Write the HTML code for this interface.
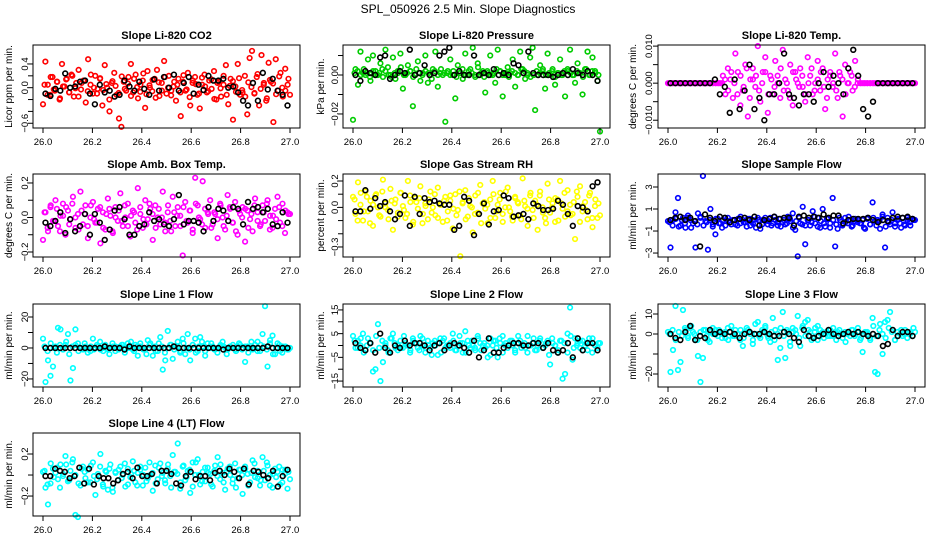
<!DOCTYPE html>
<html><head><meta charset="utf-8">
<style>
html,body{margin:0;padding:0;background:#fff;}
svg{display:block;font-family:"Liberation Sans",Arial,sans-serif;}
</style></head>
<body>
<svg id="chart" width="936" height="540" viewBox="0 0 936 540">
<text x="468" y="13" text-anchor="middle" font-size="12">SPL_050926  2.5 Min. Slope Diagnostics</text>
</svg>
<script>
const xTicks = [26.0, 26.2, 26.4, 26.6, 26.8, 27.0];
const xTickLabels = ["26.0","26.2","26.4","26.6","26.8","27.0"];
const co2 = [-28,44,5,-12,18,-5,10,-20,40,2,15,-8,22,-15,8,30,-3,12,-25,48,5,-10,20,-2,15,-30,38,0,-40,8,25,-12,-52,-66,10,-5,18,40,-8,22,-18,5,12,-34,28,0,-6,15,30,-14,8,45,-10,20,-5,2,-22,15,-48,10,-5,25,-30,8,18,-12,-35,5,22,-8,12,-2,28,-20,10,-15,5,38,-28,15,-54,2,40,-12,-8,20,-45,50,62,-10,18,-30,55,8,-22,42,10,-58,48,-5,25,-15,32,5,-12];
const co2B = [5,-12,18,-3,10,-18,2,14,-8,20,-1,-15,8,12,-6,22,0,-10,16,-4,6,-20,11,3,-9,19,-2,7,-14,15,1,-7,24,-11,4,13,-17,9,-5,18,0,-13,10,5,-8,21,-3,-16,12,6,-10,17,2,-6,14,-19,8,-1,20,-12,3,11,-7,16,-4,-15,9,1,-9,23,-2,5,-18,13,7,-11,19,0,-5,15];
const co2K = [-10,-14,-2,-5,24,0,2,10,12,-10,-28,5,-8,-5,-15,-12,12,2,-5,10,-2,-12,14,-5,18,0,22,-5,8,18,-10,5,-4,20,12,12,15,0,2,-8,-22,-30,8,-22,25,-3,15,-5,-12,-30];
const pres = [-23,3,-5,12,1,0,8,-3,10,2,0,6,-1,13,4,0,9,-2,1,11,-7,0,5,2,-16,0,7,-3,1,10,-4,0,3,12,-6,1,0,-24,2,8,0,-12,5,1,-2,11,0,3,14,-1,6,0,2,-9,1,10,0,-4,13,2,-11,0,4,1,8,-6,0,12,3,-2,0,9,14,-18,0,5,2,-7,11,0,3,-5,1,8,0,-11,2,13,0,-4,6,1,-10,3,12,0,9,2,-3,-29];
const presB = [1,2,0,3,1,-1,2,0,1,3,2,0,-1,1,2,4,0,1,2,-1,3,1,0,2,1,-2,2,0,3,1,1,0,2,-1,1,3,0,2,1,0,4,1,-1,2,0,1,3,2,0,1,-1,2,1,0,3,2,1,-1,0,2,1,3,0,1,2,-1,1,0,2,3,1,0,2,1,-1,3,0,2,1,0];
const presK = [0,-3,2,1,0,9,10,-2,0,2,1,13,0,1,5,0,1,10,12,14,0,2,0,0,10,0,1,0,3,0,1,0,6,5,1,12,1,0,0,0,-1,0,1,0,3,1,0,2,0,-3];
const temp = [0,0,0,0,0,0,0,0,0,0,0,0,0,0,0,0,0,0,0,0,0,0,2,-3,4,1,-4,8,3,-6,-2,5,-9,1,4,-1,10,-5,3,7,-8,2,-3,6,0,-4,9,1,-2,5,-6,3,0,4,-1,-5,7,2,-3,0,6,-2,4,-7,1,3,-1,8,-4,2,-9,5,0,3,-2,6,0,0,0,0,0,0,0,0,0,0,0,0,0,0,0,0,0,0,0,0,0,0,0,0];
const tempB = [0,0,0,0,0,0,0,0,0,0,0,0,0,0,0,0,0,0,1,-2,3,0,-3,2,-1,4,-4,1,2,-2,0,3,-3,1,-1,2,4,-2,0,-4,3,1,-1,2,-3,0,4,-2,1,3,-1,-4,2,0,-2,3,1,-3,0,2,-1,1,0,0,0,0,0,0,0,0,0,0,0,0,0,0,0,0,0,0];
const tempK = [0,0,0,0,0,0,0,0,0,1,-3,-1,-8,1,-7,-2,5,-7,-4,-10,-3,-3,0,8,-3,-4,-6,-3,-3,-5,0,3,-1,2,0,-3,4,9,2,-7,-9,-5,0,0,0,0,0,0,0,0];
const amb = [-13,3,-8,6,-2,10,-5,1,8,-10,4,-1,12,-6,2,15,-4,7,-12,0,9,-3,5,-15,3,-7,11,1,-9,6,-2,14,-5,0,8,-11,4,-3,17,2,-6,10,-1,5,-13,7,0,-4,15,-8,3,-2,12,-5,6,1,-22,9,-3,4,-9,23,7,-1,21,-6,3,10,-4,2,-12,8,0,-7,13,5,-3,9,-10,2,6,-14,4,-1,-8,11,3,-5,7,-2,10,1,-6,5,12,-3,8,-9,3,2];
const ambB = [3,-6,7,-2,5,-8,1,6,-4,8,0,-7,4,2,-5,7,-1,-3,6,-6,2,5,-8,0,4,-2,7,-5,1,3,-7,6,-1,-4,8,2,-6,5,0,-3,7,-8,3,1,-5,6,-2,4,-7,8,0,-4,5,2,-6,3,-1,7,-5,1,6,-3,-8,4,0,5,-6,2,7,-2,-4,3,8,-7,1,-1,6,-5,4,2];
const ambK = [-3,-5,-2,3,-9,-1,-8,-5,2,-10,2,-3,-13,-7,4,6,-1,-10,-10,-5,-4,3,-2,-1,-4,-5,-1,13,-4,-2,-2,-3,-8,6,-2,5,4,-2,6,5,-4,9,5,6,3,5,-4,-5,3,-3];
const rh = [8,-5,19,2,-10,12,-3,5,-14,9,0,-7,21,3,-2,14,-17,6,-4,11,1,-8,20,4,-13,7,-1,16,-5,3,-9,12,0,-6,15,2,-11,8,-3,5,-16,10,-2,-37,4,13,-7,1,-19,9,-4,17,3,-1,-12,6,20,-8,2,11,-5,0,15,-3,-10,7,4,-6,22,1,-14,9,-2,5,-17,12,0,-8,18,-4,3,-11,6,20,-1,-7,13,2,-5,-24,8,16,-3,4,-9,11,-15,1,-8,-6];
const rhB = [6,-10,11,-3,8,-12,2,10,-6,12,0,-9,5,3,-7,11,-2,-5,9,-11,4,7,-12,1,6,-4,10,-8,2,5,-10,9,-1,-6,12,3,-9,7,0,-5,11,-12,4,2,-8,10,-3,6,-11,12,0,-7,8,3,-9,5,-1,11,-8,2,9,-4,-12,6,0,7,-10,3,11,-3,-6,4,12,-11,1,-2,9,-8,6,3];
const rhK = [-3,-3,13,-1,7,1,4,-3,-9,-5,9,-14,8,-5,7,4,5,3,2,2,-17,-14,8,5,-21,-5,3,-13,-3,-2,9,7,-7,-6,-5,-9,3,1,-2,-2,-1,5,2,-5,-14,1,0,-3,16,19];
const flow = [-1,-25,0,7,20,-5,2,-7,4,0,-3,-25,6,2,40,-1,-27,10,-4,-13,1,-3,0,-5,2,-2,0,-4,1,-3,0,-2,1,-5,0,-3,2,-8,0,-1,-4,2,-3,0,-5,1,-2,-4,3,-1,6,-9,-33,-3,12,-22,0,-5,8,-3,2,-7,10,-6,1,-3,20,-24,-8,0,-4,2,-3,0,-5,1,-2,-3,0,-8,2,-4,16,-1,0,-8,5,-25,2,-4,7,-6,0,-3,2,-5,0,-2,1,0];
const flowB = [-2,-5,1,-6,0,-3,2,-7,-1,-4,3,-5,-2,0,-6,1,-3,-7,2,-1,-4,0,-5,3,-2,-6,1,-3,-7,0,-4,2,-1,-5,3,-2,-6,0,-3,1,-7,-1,2,-4,-5,0,-2,3,-6,-1,-3,1,-7,0,-4,2,-5,-2,3,-6,-1,0,-3,-7,1,-4,2,-5,-1,3,-6,-2,0,-3,1,-7,-4,2,-5,0];
const flowK = [0,2,3,0,2,-1,-24,5,2,-1,3,2,-2,0,1,2,0,3,-5,0,1,3,1,2,2,-5,3,4,2,3,2,5,2,4,4,-3,0,1,1,1,2,0,-2,0,-1,2,3,2,3,1];
const line1 = [6,-22,-8,-18,-12,1,13,12,-1,2,9,-21,-13,12,3,0,-1,1,0,-2,6,0,1,-1,0,2,-1,0,1,-2,0,1,2,-1,3,0,-1,2,-5,1,0,-1,5,3,-5,1,-2,7,-14,-8,11,2,-7,1,4,-3,6,-4,9,-8,2,6,-2,7,1,-5,3,0,1,-1,0,1,4,0,-1,1,0,-1,1,2,0,-9,1,0,-1,2,4,-2,9,27,-12,5,8,-4,3,-2,1,0,-1,0];
const line1B = [1,-2,3,0,-3,2,-1,4,-4,1,2,-2,0,3,-3,1,-1,2,4,-2,0,-4,3,1,-1,2,-3,0,4,-2,1,3,-1,-4,2,0,-2,3,1,-3,0,2,-1,1,-2,3,0,-1,2,-3,1,4,-2,0,3,-1,-3,2,1,-4,0,2,-2,3,-1,1,-3,4,0,-2,2,1,-1,3,-4,0,2,-3,1,-1];
const line1K = [0,0,0,0,0,0,0,0,0,0,0,0,1,0,0,0,-1,1,0,0,0,0,0,0,0,0,1,0,0,0,0,0,0,0,0,0,-1,0,0,0,0,0,0,0,0,1,0,0,0,0];
const line2 = [4,-1,2,0,5,-2,3,1,-11,-10,9,-15,-7,1,-2,3,5,-1,0,2,-1,1,0,-2,3,1,-1,4,0,-3,2,-1,1,0,-4,3,2,-1,0,1,5,-2,0,1,-3,6,2,-1,0,-2,4,1,0,-1,-5,3,0,2,-5,1,4,0,-1,2,0,-3,1,2,0,-1,4,0,1,-2,0,3,-1,0,2,-8,1,0,-3,2,-14,-12,5,16,-6,3,1,-1,2,0,-2,1,3,0,-1,1];
const line2B = [2,-1,3,-3,0,1,-2,4,-1,2,0,-3,3,1,-2,-1,4,0,-3,2,1,-2,3,-1,0,-4,2,1,-3,3,0,-1,2,-2,4,1,-3,0,2,-1,3,-2,1,0,-4,2,-1,3,-3,1,0,2,-2,4,-1,1,-3,0,3,-2,2,-1,1,-4,3,0,-2,2,1,-3,4,-1,0,2,-2,1,3,-3,0,1];
const line2K = [1,-1,-2,1,-3,5,-1,-3,0,-1,2,0,1,1,0,-2,0,1,-2,0,1,0,-1,-3,2,-5,-2,3,-3,-3,-1,0,1,1,0,0,1,1,-1,1,-2,-3,-2,1,-5,3,-2,1,1,-2];
const line3 = [1,-19,-8,14,-18,-14,12,2,-1,3,1,-3,-11,-24,-12,2,-3,1,0,2,-1,1,0,-2,3,1,-1,2,0,-3,-6,1,2,0,-5,5,6,-2,1,3,-1,-4,8,2,-13,-7,11,-12,1,-6,3,2,9,-6,4,6,7,1,-2,3,-3,2,1,0,-1,2,-1,0,1,0,-2,1,0,-1,2,0,1,-3,-9,1,0,-2,8,-19,-20,5,-10,6,7,11,2,-3,1,0,-1,2,1,0,-1,1];
const line3B = [0,2,-3,1,-1,3,-2,4,0,-3,1,2,-1,-4,3,0,2,-2,1,-3,4,-1,0,2,-2,3,1,-3,0,-1,2,4,-2,1,-3,0,3,-1,2,-4,1,0,-2,3,-1,2,-3,1,4,0,-2,1,-1,3,-3,2,0,-4,1,2,-1,3,-2,0,1,-3,4,-1,2,0,-2,3,1,-3,-1,2,0,-2,1,3];
const line3K = [0,-2,-3,1,4,-3,-1,-2,2,0,1,0,1,0,-2,0,1,0,0,1,0,-1,-1,1,0,-2,-4,2,-1,-2,-1,0,2,0,-1,0,1,0,1,0,-1,0,-1,-6,-5,2,-1,1,1,-1];
const line4 = [3,-12,-28,-8,6,2,-4,10,-1,18,-6,4,15,-38,-40,-10,8,-3,5,-7,12,-19,1,20,-9,4,-14,10,-16,3,-5,8,0,-11,6,-2,13,-7,2,5,-10,7,-3,0,-15,9,-4,11,2,-8,6,-1,19,3,30,-13,8,-5,4,-17,12,0,15,-9,3,-6,7,1,-11,9,17,-4,2,-14,6,0,-8,11,-3,5,-18,8,1,-7,14,-2,4,-10,17,-5,9,0,-12,6,3,-9,5,1,-13,-4];
const line4B = [4,-9,11,-2,7,-12,1,10,-5,12,0,-8,6,3,-7,9,-1,-4,8,-11,3,6,-12,2,5,-3,11,-9,1,4,-10,8,0,-6,12,2,-8,7,-1,-5,10,-12,3,1,-7,9,-2,5,-11,12,0,-6,7,2,-9,4,-1,10,-7,3,8,-4,-12,5,0,6,-10,2,11,-3,-5,4,12,-10,1,-2,8,-7,5,3];
const line4K = [-1,-1,6,4,3,-3,-1,7,-8,6,-9,-1,-3,-3,-8,-5,1,3,-3,7,-1,-1,1,-8,4,4,1,-8,-10,-1,3,-4,-1,-1,-5,2,4,0,6,3,-3,6,-9,4,3,0,-3,4,-11,-1,5];

const svg = document.getElementById('chart');
const NS = 'http://www.w3.org/2000/svg';
function mk(tag, attrs, parent) {
  const e = document.createElementNS(NS, tag);
  for (const k in attrs) e.setAttribute(k, attrs[k]);
  (parent || svg).appendChild(e);
  return e;
}
const cols = [{l:33,r:300,tl:24,al:8},{l:343,r:610,tl:334,al:320},{l:658,r:925,tl:648,al:632}];
const rows = [{t:45,b:128},{t:174,b:257},{t:304,b:387},{t:433,b:516}];

const panels = [
 {name:'co2',title:'Slope Li-820 CO2',ylab:'Licor ppm per min.',col:'#ff0000',c:0,r:0,d:co2,b:co2B,k:co2K,s:0.01,ymin:-0.68,ymax:0.72,ticks:[-0.6,-0.4,-0.2,0,0.2,0.4],labs:{'-0.6':'\u22120.6','0':'0.0','0.4':'0.4'}},
 {name:'pressure',title:'Slope Li-820 Pressure',ylab:'kPa per min.',col:'#00cc00',c:1,r:0,d:pres,b:presB,k:presK,s:0.001,ymin:-0.0272,ymax:0.0154,ticks:[-0.02,-0.01,0,0.01],labs:{'-0.02':'\u22120.02','0':'0.00'}},
 {name:'li820-temp',title:'Slope Li-820 Temp.',ylab:'degrees C per min.',col:'#ff00ff',c:2,r:0,d:temp,b:tempB,k:tempK,s:0.001,ymin:-0.0121,ymax:0.0103,ticks:[-0.01,-0.005,0,0.005,0.01],labs:{'-0.01':'\u22120.010','0':'0.000','0.01':'0.010'}},
 {name:'amb-box-temp',title:'Slope Amb. Box Temp.',ylab:'degrees C per min.',col:'#ff00ff',c:0,r:1,d:amb,b:ambB,k:ambK,s:0.01,ymin:-0.229,ymax:0.252,ticks:[-0.2,-0.1,0,0.1,0.2],labs:{'-0.2':'\u22120.2','0':'0.0','0.2':'0.2'}},
 {name:'gas-stream-rh',title:'Slope Gas Stream RH',ylab:'percent per min.',col:'#ffff00',c:1,r:1,d:rh,b:rhB,k:rhK,s:0.01,ymin:-0.376,ymax:0.253,ticks:[-0.3,-0.2,-0.1,0,0.1,0.2],labs:{'-0.3':'\u22120.3','0':'0.0','0.2':'0.2'}},
 {name:'sample-flow',title:'Slope Sample Flow',ylab:'ml/min per min.',col:'#0000ff',c:2,r:1,d:flow,b:flowB,k:flowK,s:0.1,ymin:-3.36,ymax:4.18,ticks:[-3,-1,1,3],labs:{'-3':'\u22123','-1':'\u22121','1':'1','3':'3'}},
 {name:'line1-flow',title:'Slope Line 1 Flow',ylab:'ml/min per min.',col:'#00ffff',c:0,r:2,d:line1,b:line1B,k:line1K,s:1,ymin:-25.2,ymax:28.4,ticks:[-20,-10,0,10,20],labs:{'-20':'\u221220','0':'0','20':'20'}},
 {name:'line2-flow',title:'Slope Line 2 Flow',ylab:'ml/min per min.',col:'#00ffff',c:1,r:2,d:line2,b:line2B,k:line2K,s:1,ymin:-17.5,ymax:17.5,ticks:[-15,-10,-5,0,5,10,15],labs:{'-15':'\u221215','-5':'\u22125','5':'5','15':'15'}},
 {name:'line3-flow',title:'Slope Line 3 Flow',ylab:'ml/min per min.',col:'#00ffff',c:2,r:2,d:line3,b:line3B,k:line3K,s:1,ymin:-26.5,ymax:15,ticks:[-20,-10,0,10],labs:{'-20':'\u221220','0':'0','10':'10'}},
 {name:'line4-flow',title:'Slope Line 4 (LT) Flow',ylab:'ml/min per min.',col:'#00ffff',c:0,r:3,d:line4,b:line4B,k:line4K,s:0.01,ymin:-0.39,ymax:0.40,ticks:[-0.2,0,0.2],labs:{'-0.2':'\u22120.2','0.2':'0.2'}}
];

panels.forEach(p => {
  const C = cols[p.c], R = rows[p.r];
  const g = mk('g', {});
  
  
  const x0 = C.l + 10, x1 = C.r - 10;
  const xs = v => x0 + (v - 26) * (x1 - x0);
  const ys = v => R.b - (v - p.ymin) / (p.ymax - p.ymin) * (R.b - R.t);
  const t = mk('text', {x:(C.l+C.r)/2, y:R.t-6, 'text-anchor':'middle','font-size':'11','font-weight':'bold'}, g);
  t.textContent = p.title;
  
  
  const yl = mk('text', {x:0,y:0,'text-anchor':'middle','font-size':'10',transform:`translate(${C.al+4},${(R.t+R.b)/2}) rotate(-90)`}, g);
  yl.textContent = p.ylab;
  
  
  const pg = mk('g', {fill:'none','stroke-width':'1.6'}, g);
  
  
  p.b.forEach((v, i) => {
    const c = mk('circle', {cx:xs(26 + (i+0.5)/p.b.length), cy:ys(v*p.s), r:2.3, stroke:p.col}, pg);
    
    
  });
  p.d.forEach((v, i) => {
    const c = mk('circle', {cx:xs(26 + i/(p.d.length-1)), cy:ys(v*p.s), r:2.3, stroke:p.col}, pg);
    
    
  });
  const kg = mk('g', {fill:'none','stroke-width':'1.6'}, g);
  
  
  p.k.forEach((v, i) => {
    const c = mk('circle', {cx:xs(26.01 + 0.98*i/(p.k.length-1)), cy:ys(v*p.s), r:2.4, stroke:'#000'}, kg);
    
    
  });
  const box = mk('rect', {x:C.l, y:R.t, width:C.r-C.l, height:R.b-R.t, fill:'none', stroke:'#000','stroke-width':'1'}, g);
  
  
  xTicks.forEach((v, i) => {
    mk('line', {x1:xs(v), x2:xs(v), y1:R.b, y2:R.b+5, stroke:'#000'}, g);
    const tl = mk('text', {x:xs(v), y:R.b+17, 'text-anchor':'middle','font-size':'9.5'}, g);
    tl.textContent = xTickLabels[i];
    
    
  });
  p.ticks.forEach(v => {
    const y = ys(v);
    mk('line', {x1:C.l-5, x2:C.l, y1:y, y2:y, stroke:'#000'}, g);
    const key = String(v);
    if (p.labs[key] !== undefined) {
      const tl = mk('text', {x:0,y:0,'text-anchor':'middle','font-size':'9.5',transform:`translate(${C.tl+4},${y}) rotate(-90)`}, g);
      tl.textContent = p.labs[key];
      
      
    }
  });
});
</script>
</body></html>
